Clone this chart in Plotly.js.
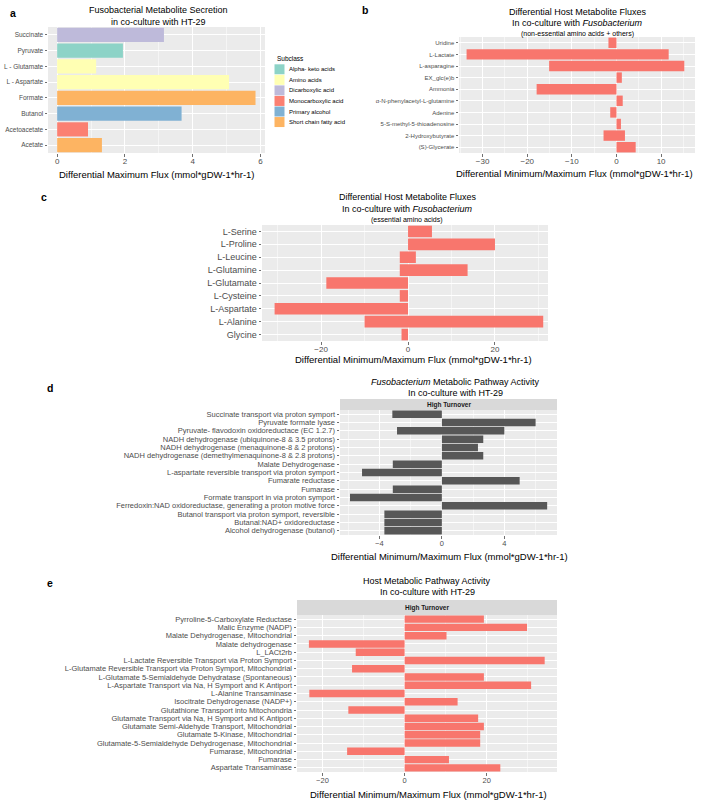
<!DOCTYPE html>
<html><head><meta charset="utf-8">
<script src="https://cdn.plot.ly/plotly-3.0.1.min.js"></script>
<style>body{margin:0;background:#fff}#chart{width:704px;height:800px}</style>
</head><body><div id="chart"></div>
<script>
// ---------- Panel a ----------
const aMetabolites = ['Succinate','Pyruvate','L - Glutamate','L - Aspartate','Formate','Butanol','Acetoacetate','Acetate'];
const aFlux = [3.15,1.94,1.15,5.07,5.85,3.67,0.91,1.32];
const aSubclass = ['Dicarboxylic acid','Alpha- keto acids','Amino acids','Amino acids','Short chain fatty acid','Primary alcohol','Monocarboxylic acid','Short chain fatty acid'];
const subclassNames = ['Alpha- keto acids','Amino acids','Dicarboxylic acid','Monocarboxylic acid','Primary alcohol','Short chain fatty acid'];
const subclassColors = ['#8DD3C7','#FFFFB3','#BEBADA','#FB8072','#80B1D3','#FDB462'];

// ---------- Panel b ----------
const bMetabolites = ['Uridine','L-Lactate','L-asparagine','EX_glc(e)b','Ammonia','α-N-phenylacetyl-L-glutamine','Adenine','5-S-methyl-5-thioadenosine','2-Hydroxybutyrate','(S)-Glycerate'];
const bMin = [-1.8,-33.6,-15.1,0,-17.9,0,-1.4,0,-2.9,0];
const bMax = [0,11.7,15.2,1.2,0,1.4,0,1.0,1.9,4.3];

// ---------- Panel c ----------
const cMetabolites = ['L-Serine','L-Proline','L-Leucine','L-Glutamine','L-Glutamate','L-Cysteine','L-Aspartate','L-Alanine','Glycine'];
const cMin = [0,0,-1.9,-1.9,-18.8,-1.9,-30.7,-10.0,-1.5];
const cMax = [5.5,20.0,1.8,13.7,0,0,0,31.1,0];

// ---------- Panel d ----------
const dReactions = ['Succinate transport via proton symport','Pyruvate formate lyase','Pyruvate- flavodoxin oxidoreductace (EC 1.2.7)','NADH dehydrogenase (ubiquinone-8 & 3.5 protons)','NADH dehydrogenase (menaquinone-8 & 2 protons)','NADH dehydrogenase (demethylmenaquinone-8 & 2.8 protons)','Malate Dehydrogenase','L-aspartate reversible transport via proton symport','Fumarate reductase','Fumarase','Formate transport in via proton symport','Ferredoxin:NAD oxidoreductase, generating a proton motive force','Butanol transport via proton symport, reversible','Butanal:NAD+ oxidoreductase','Alcohol dehydrogenase (butanol)'];
const dMin = [-3.17,0,-2.87,0,0,0,-3.14,-5.11,0,-3.14,-5.88,0,-3.68,-3.68,-3.68];
const dMax = [0,6.0,4.0,2.65,2.31,2.65,0,0,4.98,0,0,6.74,0,0,0];

// ---------- Panel e ----------
const eReactions = ['Pyrroline-5-Carboxylate Reductase','Malic Enzyme (NADP)','Malate Dehydrogenase, Mitochondrial','Malate dehydrogenase','L_LACt2rb','L-Lactate Reversible Transport via Proton Symport','L-Glutamate Reversible Transport via Proton Symport, Mitochondrial','L-Glutamate 5-Semialdehyde Dehydratase (Spontaneous)','L-Aspartate Transport via Na, H Symport and K Antiport','L-Alanine Transaminase','Isocitrate Dehydrogenase (NADP+)','Glutathione Transport into Mitochondria','Glutamate Transport via Na, H Symport and K Antiport','Glutamate Semi-Aldehyde Transport, Mitochondrial','Glutamate 5-Kinase, Mitochondrial','Glutamate-5-Semialdehyde Dehydrogenase, Mitochondrial','Fumarase, Mitochondrial','Fumarase','Aspartate Transaminase'];
const eMin = [0,0,0,-23.3,-11.9,0,-12.8,0,0,-23.2,0,-13.7,0,0,0,0,-14.0,0,0];
const eMax = [19.3,29.8,10.2,0,0,34.1,0,19.3,30.8,0,12.9,0,17.9,19.3,18.4,18.4,0,10.8,23.3];

// ---------- helpers ----------
const W = 704, H = 800;
const fx = p => p / W;
const fy = p => 1 - p / H;
const FONT = 'Liberation Sans, Arial, sans-serif';
const RED = '#F8766D', DARK = '#575757';

function floating(cats, mn, mx, color, n) {
  return {
    type: 'bar', orientation: 'h', y: cats,
    x: mx.map((v, i) => v - mn[i]), base: mn,
    marker: {color: color, line: {width: 0}},
    xaxis: 'x' + n, yaxis: 'y' + n, hoverinfo: 'skip', showlegend: false
  };
}

const traces = [
  {type: 'bar', orientation: 'h', y: aMetabolites, x: aFlux,
   marker: {color: aSubclass.map(s => subclassColors[subclassNames.indexOf(s)]), line: {width: 0}},
   xaxis: 'x', yaxis: 'y', hoverinfo: 'skip', showlegend: false},
  floating(bMetabolites, bMin, bMax, RED, 2),
  floating(cMetabolites, cMin, cMax, RED, 3),
  floating(dReactions, dMin, dMax, DARK, 4),
  floating(eReactions, eMin, eMax, RED, 5)
];

function xax(x0, x1, range, dtick, mdtick, fs, anchor) {
  return {
    domain: [fx(x0), fx(x1)], range: range, anchor: anchor,
    dtick: dtick, tick0: 0, ticks: 'outside', ticklen: 2.5, tickwidth: 0.7, tickcolor: '#333',
    ticklabelstandoff: -2,
    tickfont: {family: FONT, size: fs, color: '#4D4D4D'},
    showgrid: true, gridcolor: '#FFFFFF', gridwidth: 1, zeroline: false, showline: false,
    minor: {dtick: mdtick, tick0: 0, showgrid: true, gridcolor: '#FFFFFF', gridwidth: 0.5, ticks: ''},
    automargin: false, fixedrange: true
  };
}
function yax(y0, y1, fs, anchor, cats) {
  return {
    domain: [fy(y1), fy(y0)], type: 'category', autorange: 'reversed', anchor: anchor,
    tickmode: 'array', tickvals: cats, ticktext: cats,
    ticks: 'outside', ticklen: 2.5, tickwidth: 0.7, tickcolor: '#333',
    tickfont: {family: FONT, size: fs, color: '#4D4D4D'},
    showgrid: true, gridcolor: '#FFFFFF', gridwidth: 1, zeroline: false, showline: false,
    automargin: false, fixedrange: true
  };
}

const annotations = [];
const shapes = [];
function txt(x, y, text, size, opts) {
  annotations.push(Object.assign({
    xref: 'paper', yref: 'paper', x: fx(x), y: fy(y), text: text, showarrow: false,
    xanchor: 'center', yanchor: 'middle', font: {family: FONT, size: size, color: '#000'}
  }, opts || {}));
}

// panel letters
txt(13, 13, '<b>a</b>', 10.5);
txt(365, 10, '<b>b</b>', 10.5);
txt(44, 197, '<b>c</b>', 10.5);
txt(50, 388, '<b>d</b>', 10.5);
txt(50, 583, '<b>e</b>', 10.5);

// titles
txt(158, 10, 'Fusobacterial Metabolite Secretion', 9);
txt(158, 22, 'in co-culture with HT-29', 9);
txt(577, 12, 'Differential Host Metabolite Fluxes', 9);
txt(577, 23, 'In co-culture with <i>Fusobacterium</i>', 9);
txt(577, 33.5, '(non-essential amino acids + others)', 7);
txt(407, 197, 'Differential Host Metabolite Fluxes', 9);
txt(407, 209, 'In co-culture with <i>Fusobacterium</i>', 9);
txt(407, 220, '(essential amino acids)', 7);
txt(455, 382, '<i>Fusobacterium</i> Metabolic Pathway Activity', 9);
txt(455, 393, 'In co-culture with HT-29', 9);
txt(427, 581, 'Host Metabolic Pathway Activity', 9);
txt(427, 592, 'In co-culture with HT-29', 9);

// axis titles
txt(157, 174, 'Differential Maximum Flux (mmol*gDW-1*hr-1)', 9.5);
txt(574, 173, 'Differential Minimum/Maximum Flux (mmol*gDW-1*hr-1)', 9.5);
txt(413, 360, 'Differential Minimum/Maximum Flux (mmol*gDW-1*hr-1)', 9.5);
txt(449, 556, 'Differential Minimum/Maximum Flux (mmol*gDW-1*hr-1)', 9.5);
txt(428, 794, 'Differential Minimum/Maximum Flux (mmol*gDW-1*hr-1)', 9.5);

// facet strips
function strip(x0, x1, y0, y1, label) {
  shapes.push({type: 'rect', xref: 'paper', yref: 'paper', x0: fx(x0), x1: fx(x1), y0: fy(y1), y1: fy(y0),
    fillcolor: '#D9D9D9', line: {width: 0}, layer: 'below'});
  txt((x0 + x1) / 2, (y0 + y1) / 2, '<b>' + label + '</b>', 6.5, {font: {family: FONT, size: 6.5, color: '#1A1A1A'}});
}
strip(340, 557, 399, 410, 'High Turnover');
strip(297, 557, 600, 615, 'High Turnover');

// legend for panel a (built from subclass arrays)
txt(275, 58, 'Subclass', 6.5, {xanchor: 'left'});
subclassNames.forEach((name, i) => {
  const cy = 69.3 + i * 10.55;
  shapes.push({type: 'rect', xref: 'paper', yref: 'paper', x0: fx(274.5), x1: fx(284.5),
    y0: fy(cy + 5), y1: fy(cy - 5), fillcolor: subclassColors[i], line: {width: 0}});
  txt(286.5, cy, name, 6, {xanchor: 'left'});
});

const layout = {
  width: W, height: H, margin: {l: 0, r: 0, t: 0, b: 0},
  paper_bgcolor: '#FFFFFF', plot_bgcolor: '#EBEBEB',
  barmode: 'overlay', bargap: 0.1, showlegend: false,
  font: {family: FONT},
  xaxis: xax(48, 265, [-0.27, 6.13], 2, 1, 8, 'y'),
  yaxis: yax(27, 153, 6.5, 'x', aMetabolites),
  xaxis2: xax(459, 695, [-35.3, 17.6], 10, 5, 8, 'y2'),
  yaxis2: yax(37, 153, 6, 'x2', bMetabolites),
  xaxis3: xax(262, 548, [-33.6, 32.2], 20, 10, 8, 'y3'),
  yaxis3: yax(225, 341, 9, 'x3', cMetabolites),
  xaxis4: xax(340, 557, [-6.52, 7.37], 4, 2, 7.5, 'y4'),
  yaxis4: yax(410, 535, 7.5, 'x4', dReactions),
  xaxis5: xax(297, 557, [-26.2, 37.1], 20, 10, 7.5, 'y5'),
  yaxis5: yax(615, 772, 7.5, 'x5', eReactions),
  annotations: annotations,
  shapes: shapes
};

Plotly.newPlot('chart', traces, layout, {staticPlot: true, displayModeBar: false});
</script>
</body></html>
